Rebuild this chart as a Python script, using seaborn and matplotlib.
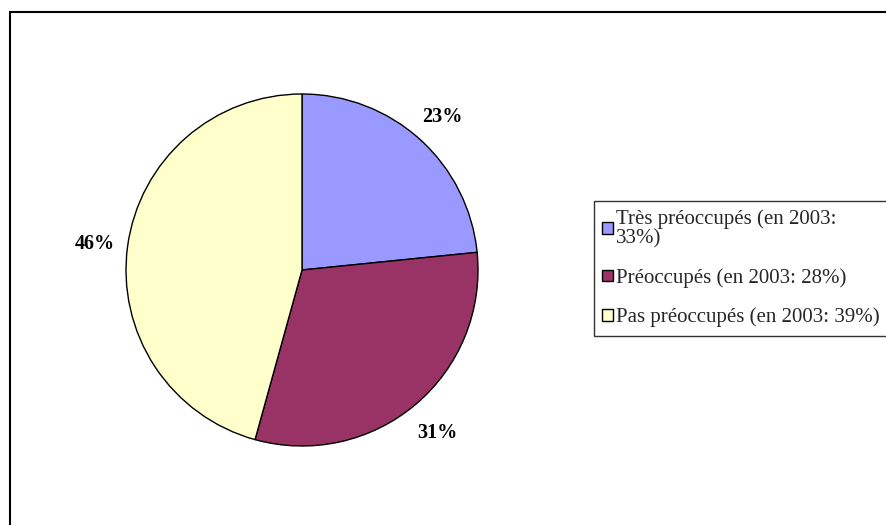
import matplotlib.pyplot as plt
import seaborn as sns
import numpy as np
import pandas as pd
from matplotlib.patches import Rectangle

# 数据
categories = ['Très préoccupés (en 2003:\n33%)', 'Préoccupés (en 2003: 28%)', 'Pas préoccupés (en 2003: 39%)']
values = [23.4, 30.9, 45.7]
colors = ['#9999FF', '#993366', '#FFFFCC']

sns.set_theme(style='white')
plt.rcParams['font.family'] = ['Liberation Serif', 'DejaVu Serif']

fig = plt.figure(figsize=(8.87, 5.25), dpi=100)
fig.patch.set_facecolor('white')

# 外框
fig.patches.append(Rectangle((10 / 887, -0.1), 1.0, (525 - 12) / 525 + 0.1,
                             transform=fig.transFigure, fill=False,
                             edgecolor='black', linewidth=1.5))

# 饼图
ax = fig.add_axes([126 / 887, (525 - 270 - 176) / 525, 352 / 887, 352 / 525])
wedges, texts = ax.pie(values, colors=colors, startangle=90, counterclock=False,
                       wedgeprops={'edgecolor': 'black', 'linewidth': 1})
for w, v in zip(wedges, values):
    ang = np.deg2rad((w.theta1 + w.theta2) / 2)
    ax.text(1.19 * np.cos(ang), 1.19 * np.sin(ang), f'{v:.0f}%', ha='center',
            va='center_baseline', fontsize=14.5, fontweight='bold', color='black')
ax.set_aspect('equal')
ax.set_xlim(-1, 1)
ax.set_ylim(-1, 1)
ax.axis('off')

# 图例
leg = fig.legend(wedges, categories, loc='upper left',
                 bbox_to_anchor=(594 / 887, (525 - 201) / 525),
                 fontsize=15, frameon=True, fancybox=False, edgecolor='black',
                 handlelength=0.5, handleheight=0.5, handletextpad=0.15,
                 labelspacing=0.95, borderpad=0.4, borderaxespad=0)
leg.get_frame().set_linewidth(1)
for h in leg.legend_handles:
    h.set_linewidth(1)
for t in leg.get_texts():
    t.set_linespacing(1.0)

fig.savefig('out.png', dpi=100)
